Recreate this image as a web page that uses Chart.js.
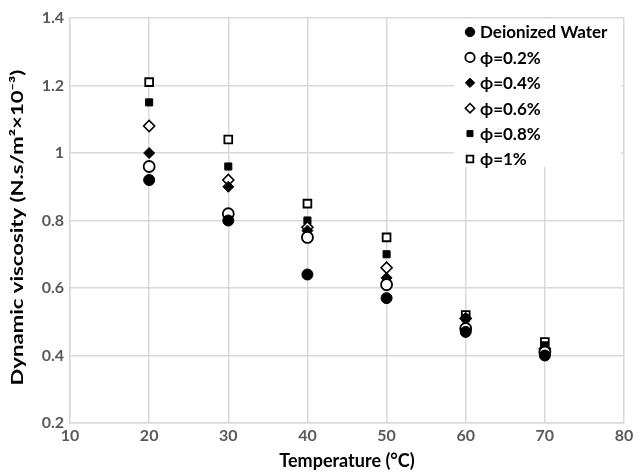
<!DOCTYPE html>
<html>
<head>
<meta charset="utf-8">
<script src="https://cdn.jsdelivr.net/npm/chart.js@4"></script>
<style>
  html, body { margin: 0; padding: 0; background: #fff; }
  #wrap { width: 641px; height: 472px; }
</style>
</head>
<body>
<div id="wrap"><canvas id="viscChart" width="641" height="472"></canvas></div>
<script>
// Temperatures (°C)
const temperatures = [20, 30, 40, 50, 60, 70];

// Dynamic viscosity values
const waterValues = [0.92, 0.80, 0.64, 0.57, 0.47, 0.40];
const phi02Values = [0.96, 0.82, 0.75, 0.61, 0.48, 0.41];
const phi04Values = [1.00, 0.90, 0.77, 0.63, 0.51, 0.42];
const phi06Values = [1.08, 0.92, 0.78, 0.66, 0.51, 0.42];
const phi08Values = [1.15, 0.96, 0.80, 0.70, 0.51, 0.43];
const phi1Values  = [1.21, 1.04, 0.85, 0.75, 0.52, 0.44];

const seriesLabels = ['Deionized Water', 'ϕ=0.2%', 'ϕ=0.4%', 'ϕ=0.6%', 'ϕ=0.8%', 'ϕ=1%'];

const xTicks = [10, 20, 30, 40, 50, 60, 70, 80];
const yTicks = [0.2, 0.4, 0.6, 0.8, 1, 1.2, 1.4];

const xTitle = 'Temperature (°C)';
const yTitle = 'Dynamic viscosity (N.s/m²×10⁻³)';

function toPoints(values) {
    return values.map((v, i) => ({ x: temperatures[i], y: v }));
}

const gridColor = '#d9d9d9';
const tickColor = '#595959';
const fontFamily = 'Lato, "Open Sans", sans-serif';

// Draws the legend inside the plot, top right, on a white box
const insideLegend = {
    id: 'insideLegend',
    afterDatasetsDraw(chart) {
        const ctx = chart.ctx;
        const area = chart.chartArea;
        const left = area.right - 170;
        const top = area.top + 1;
        ctx.save();
        ctx.fillStyle = '#fff';
        ctx.fillRect(left, top, 167, 148);
        ctx.font = 'bold 17px ' + fontFamily;
        ctx.textBaseline = 'middle';
        chart.data.datasets.forEach((ds, i) => {
            const y = top + 13 + i * 25.4;
            const x = left + 16;
            ctx.fillStyle = ds.backgroundColor;
            ctx.strokeStyle = ds.borderColor;
            ctx.lineWidth = ds.borderWidth;
            Chart.helpers.drawPoint(ctx, {
                pointStyle: ds.pointStyle,
                radius: ds.pointRadius * 0.85,
                rotation: 0,
                borderWidth: ds.borderWidth
            }, x, y);
            ctx.fillStyle = '#000';
            ctx.fillText(ds.label, x + 10, y + 1);
        });
        ctx.restore();
    }
};

// Y title, drawn by hand so it can be stretched along its length like the original
const stretchedYTitle = {
    id: 'stretchedYTitle',
    afterDraw(chart) {
        const ctx = chart.ctx;
        const area = chart.chartArea;
        ctx.save();
        ctx.translate(18, (area.top + area.bottom) / 2 + 7);
        ctx.rotate(-Math.PI / 2);
        ctx.scale(1.3, 1);
        ctx.font = 'bold 17px ' + fontFamily;
        ctx.fillStyle = '#000';
        ctx.textAlign = 'center';
        ctx.textBaseline = 'middle';
        ctx.fillText(yTitle, 0, 0);
        ctx.restore();
    }
};

function createViscosityChart() {
    const ctx = document.getElementById('viscChart');

    new Chart(ctx, {
        type: 'scatter',
        data: {
            datasets: [
                {
                    label: seriesLabels[0],
                    data: toPoints(waterValues),
                    pointStyle: 'circle',
                    pointRadius: 5.5,
                    backgroundColor: '#000',
                    borderColor: '#000',
                    borderWidth: 1
                },
                {
                    label: seriesLabels[1],
                    data: toPoints(phi02Values),
                    pointStyle: 'circle',
                    pointRadius: 5.5,
                    backgroundColor: '#fff',
                    borderColor: '#000',
                    borderWidth: 1.8
                },
                {
                    label: seriesLabels[2],
                    data: toPoints(phi04Values),
                    pointStyle: 'rectRot',
                    pointRadius: 5.5,
                    backgroundColor: '#000',
                    borderColor: '#000',
                    borderWidth: 1
                },
                {
                    label: seriesLabels[3],
                    data: toPoints(phi06Values),
                    pointStyle: 'rectRot',
                    pointRadius: 5.5,
                    backgroundColor: '#fff',
                    borderColor: '#000',
                    borderWidth: 1.6
                },
                {
                    label: seriesLabels[4],
                    data: toPoints(phi08Values),
                    pointStyle: 'rect',
                    pointRadius: 5,
                    backgroundColor: '#000',
                    borderColor: '#000',
                    borderWidth: 1
                },
                {
                    label: seriesLabels[5],
                    data: toPoints(phi1Values),
                    pointStyle: 'rect',
                    pointRadius: 5.5,
                    backgroundColor: '#fff',
                    borderColor: '#000',
                    borderWidth: 1.8
                }
            ]
        },
        options: {
            responsive: false,
            animation: false,
            layout: { padding: { top: 18, right: 17, left: 0, bottom: 0 } },
            scales: {
                x: {
                    type: 'linear',
                    min: 10,
                    max: 80,
                    afterBuildTicks: scale => { scale.ticks = xTicks.map(v => ({ value: v })); },
                    afterFit: scale => { scale.height = 49; },
                    grid: { color: gridColor, lineWidth: 1.5, drawTicks: false },
                    border: { color: gridColor, width: 1.5 },
                    ticks: {
                        color: tickColor,
                        padding: 3,
                        maxRotation: 0,
                        font: { family: fontFamily, size: 16, weight: 'bold' }
                    },
                    title: {
                        display: true,
                        text: xTitle,
                        color: '#000',
                        padding: { top: 0, bottom: 0 },
                        font: { family: fontFamily, size: 18, weight: 'bold' }
                    }
                },
                y: {
                    type: 'linear',
                    min: 0.2,
                    max: 1.4,
                    afterBuildTicks: scale => { scale.ticks = yTicks.map(v => ({ value: v })); },
                    afterFit: scale => { scale.width = 70; },
                    grid: { color: gridColor, lineWidth: 1.5, drawTicks: false },
                    border: { color: gridColor, width: 1.5 },
                    ticks: {
                        color: tickColor,
                        padding: 6,
                        callback: v => String(Math.round(v * 10) / 10),
                        font: { family: fontFamily, size: 16, weight: 'bold' }
                    },
                    title: { display: false }
                }
            },
            plugins: {
                legend: { display: false },
                tooltip: { enabled: false }
            }
        },
        plugins: [insideLegend, stretchedYTitle]
    });
}

document.addEventListener('DOMContentLoaded', createViscosityChart);
</script>
</body>
</html>
